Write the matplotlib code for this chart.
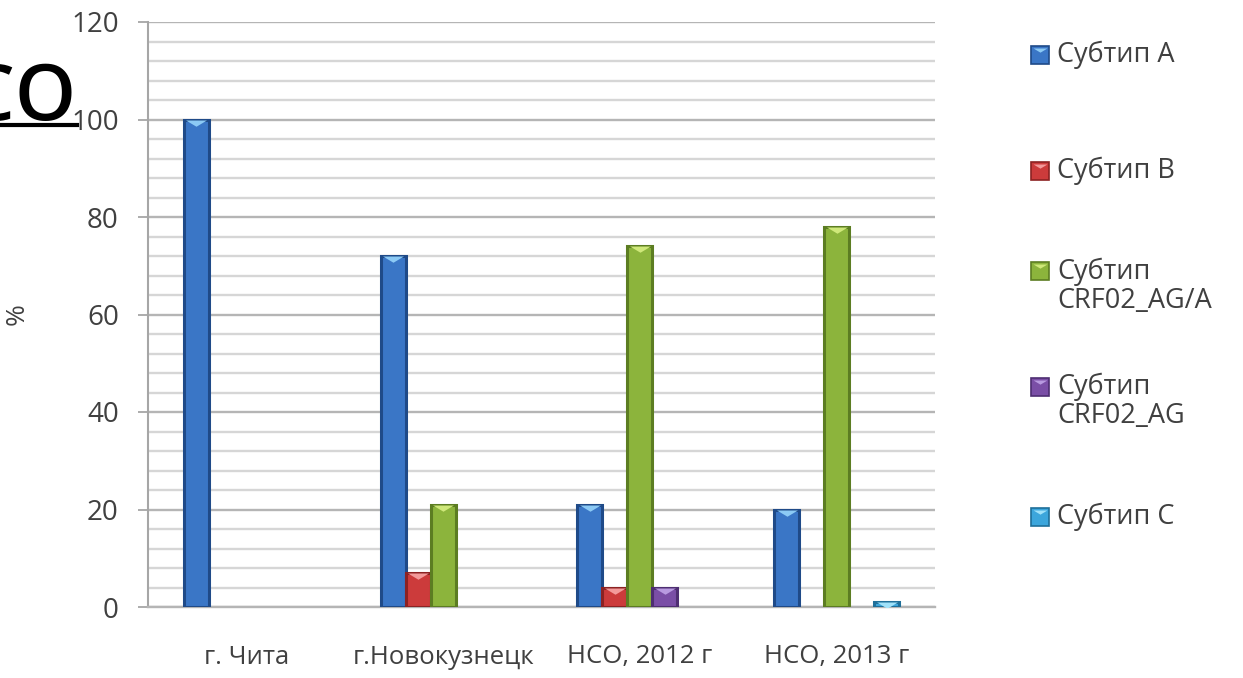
import numpy as np
from matplotlib import pyplot as plt
from matplotlib.lines import Line2D
from matplotlib.path import Path

plt.rcParams['font.family'] = ['Open Sans', 'DejaVu Sans']

categories = ["г. Чита", "г.Новокузнецк", "НСО, 2012 г", "НСО, 2013 г"]
series_names = ["Субтип A", "Субтип B", "Субтип\nCRF02_AG/A", "Субтип\nCRF02_AG", "Субтип C"]
subtype_a = [100, 72, 21, 20]
subtype_b = [np.nan, 7, 4, np.nan]
subtype_crf_a = [np.nan, 21, 74, 78]
subtype_crf = [np.nan, np.nan, 4, np.nan]
subtype_c = [np.nan, np.nan, np.nan, 1]
all_series = [subtype_a, subtype_b, subtype_crf_a, subtype_crf, subtype_c]

face_colors = ["#3a76c6", "#cc3b3b", "#8cb43c", "#7a4ea6", "#3ca6dc"]
edge_colors = ["#1f4a88", "#8c2222", "#5c7d22", "#4e2e72", "#1f6f99"]
top_colors = ["#8ccaf5", "#f39a9a", "#cfe87a", "#b89ae0", "#a0e2fa"]

W, H = 1243, 678
fig = plt.figure(figsize=(W / 100, H / 100), dpi=100)
ax = fig.add_axes([148 / W, 1 - 607 / H, (935 - 148) / W, (607 - 22) / H])

x = np.arange(len(categories))
width = 0.127
tri = Path([(-1, 0), (1, 0), (0, -0.6), (-1, 0)], [Path.MOVETO, Path.LINETO, Path.LINETO, Path.CLOSEPOLY])

for i in range(len(all_series)):
    vals = np.array(all_series[i], dtype=float)
    pos = x + (i - 2) * width
    ax.bar(pos, vals, width, color=face_colors[i], edgecolor=edge_colors[i], linewidth=2.2, zorder=3)
    ax.plot(pos, vals, linestyle='none', marker=tri, markersize=15,
            color=top_colors[i], markeredgewidth=0, zorder=4)

ax.set_xlim(-0.5, 3.5)
ax.set_ylim(0, 120)
ax.set_yticks(np.arange(0, 121, 20))
ax.set_yticks(np.arange(0, 121, 4), minor=True)
ax.grid(which='minor', axis='y', color='#d6d6d6', linewidth=1.7, zorder=0)
ax.grid(which='major', axis='y', color='#b5b5b5', linewidth=1.7, zorder=0)
ax.set_axisbelow(True)

ax.set_xticks(x)
ax.set_xticklabels(categories)
ax.tick_params(axis='x', length=0, pad=27, labelsize=18.5, labelcolor='#404040')
ax.tick_params(axis='y', which='major', length=7, width=1.3, color='#a6a6a6',
               pad=14, labelsize=20, labelcolor='#404040')
ax.tick_params(axis='y', which='minor', length=0)

for s in ['top', 'right']:
    ax.spines[s].set_visible(False)
ax.spines['left'].set_color('#a6a6a6')
ax.spines['left'].set_linewidth(1.5)
ax.spines['bottom'].set_color('#b5b5b5')
ax.spines['bottom'].set_linewidth(1.7)

ax.set_ylabel("%", fontsize=19, color='#404040')
ax.yaxis.set_label_coords(-0.15, 0.5)

# legend, drawn by hand to follow the spacing of the original
for i in range(len(series_names)):
    yc = 55 + i * 115.5
    first = yc - 15 if "\n" in series_names[i] else yc
    fx = 1040 / W
    fy = 1 - first / H
    fig.add_artist(Line2D([fx], [fy], transform=fig.transFigure, marker='s', markersize=13.5,
                          color=face_colors[i], markeredgecolor=edge_colors[i], markeredgewidth=1.2))
    fig.add_artist(Line2D([fx], [fy + 7 / H], transform=fig.transFigure, marker=tri, markersize=10,
                          color=top_colors[i], markeredgewidth=0))
    fig.text(1057 / W, 1 - yc / H, series_names[i], fontsize=19.5, color='#404040',
             va='center', ha='left', linespacing=1.05)

# piece of the slide title cut by the left border
fig.text(77 / W, 1 - 120 / H, "НСО", fontsize=56, fontweight='semibold', color='black',
         ha='right', va='baseline')
fig.add_artist(Line2D([0, 77 / W], [1 - 125 / H, 1 - 125 / H], transform=fig.transFigure,
                      color='black', linewidth=3))

fig.savefig("out.png", dpi=100)
